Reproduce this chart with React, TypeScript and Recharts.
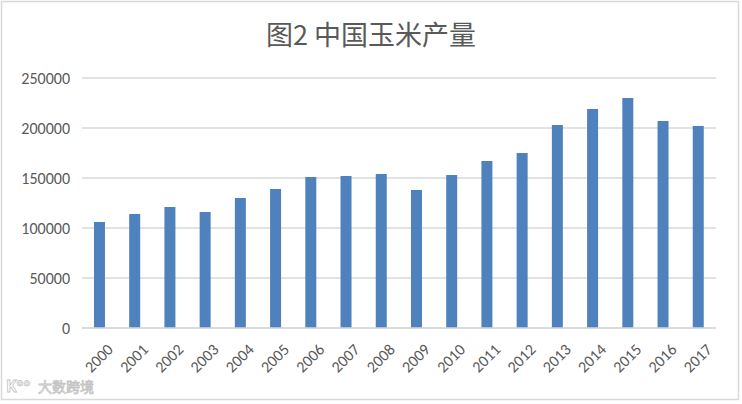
import { BarChart, Bar, XAxis, YAxis, CartesianGrid } from 'recharts';

const years = [
  '2000', '2001', '2002', '2003', '2004', '2005', '2006', '2007', '2008',
  '2009', '2010', '2011', '2012', '2013', '2014', '2015', '2016', '2017',
];
const output = [
  106000, 114000, 121000, 116000, 130000, 139000, 151000, 152000, 154000,
  138000, 153000, 167000, 175000, 203000, 219000, 230000, 207000, 202000,
];
const yTicks = [0, 50000, 100000, 150000, 200000, 250000];

const data = years.map((year, i) => ({ year, output: output[i] }));

const textColor = '#595959';
const font = 'Carlito, "Open Sans", "Liberation Sans", sans-serif';

function YearTick(props: any) {
  const { x, y, payload } = props;
  return (
    <text
      x={x + 6}
      y={y + 6}
      transform={`rotate(-45 ${x + 6} ${y + 6})`}
      textAnchor="end"
      dominantBaseline="hanging"
      fill={textColor}
      fontSize={16}
      fontFamily={font}
    >
      {payload.value}
    </text>
  );
}

export default function App() {
  return (
    <div style={{ position: 'absolute', left: 0, top: 0, width: 742, height: 404, background: '#fff' }}>
      <svg width={742} height={404} style={{ position: 'absolute', left: 0, top: 0 }}>
        <rect x={1.5} y={1.5} width={737} height={398} fill="#fff" stroke="#d9d9d9" strokeWidth={1.5} />
      </svg>
      <div
        style={{
          position: 'absolute',
          left: 0,
          top: 14,
          width: 742,
          textAlign: 'center',
          fontSize: 27,
          color: textColor,
          fontFamily: '"Noto Sans CJK SC", sans-serif',
          lineHeight: '40px',
        }}
      >
        图2 中国玉米产量
      </div>
      <div style={{ position: 'absolute', left: 0, top: 0 }}>
        <BarChart width={742} height={404} data={data} margin={{ top: 78, right: 26, left: 0, bottom: 0 }} barCategoryGap="34%">
          <CartesianGrid vertical={false} stroke="#d9d9d9" strokeWidth={1.5} />
          <XAxis
            dataKey="year"
            height={76}
            interval={0}
            tick={<YearTick />}
            tickLine={false}
            axisLine={{ stroke: '#d9d9d9', strokeWidth: 1.5 }}
          />
          <YAxis
            width={82}
            domain={[0, 250000]}
            ticks={yTicks}
            tickLine={false}
            axisLine={false}
            tickSize={0}
            tickMargin={12}
            tick={{ fill: textColor, fontSize: 16, fontFamily: font }}
          />
          <Bar dataKey="output" fill="#4f81bd" isAnimationActive={false} />
        </BarChart>
      </div>
      <svg width={120} height={30} style={{ position: 'absolute', left: 0, top: 372 }}>
        <text x={6} y={20} fontSize={16} fontWeight="bold" fill="#fff" stroke="#c4c4c4" strokeWidth={0.8} fontFamily='"Noto Sans", sans-serif'>K°°</text>
        <text x={38} y={20} fontSize={14} fill="#fff" stroke="#c4c4c4" strokeWidth={0.8} fontFamily='"Noto Sans CJK SC", sans-serif'>大数跨境</text>
      </svg>
    </div>
  );
}
